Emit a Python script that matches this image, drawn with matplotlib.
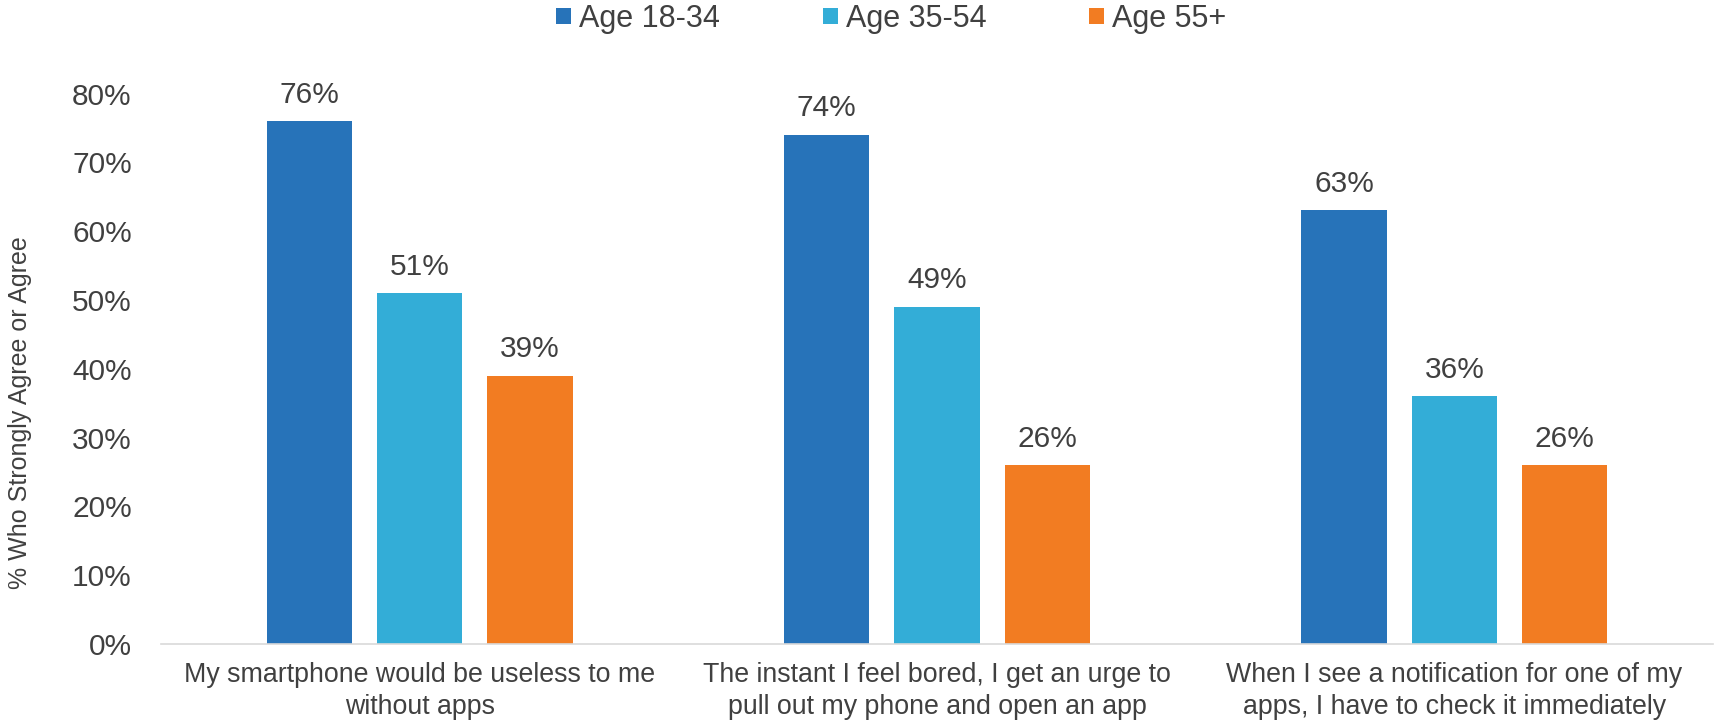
import matplotlib
matplotlib.use("Agg")
import matplotlib.pyplot as plt
from matplotlib.patches import Patch
import numpy as np

plt.rcParams['font.family'] = ['Liberation Sans', 'DejaVu Sans']

categories = [
    "My smartphone would be useless to me\nwithout apps",
    "The instant I feel bored, I get an urge to\npull out my phone and open an app",
    "When I see a notification for one of my\napps, I have to check it immediately",
]
series_names = ["Age 18-34", "Age 35-54", "Age 55+"]
age_18_34 = [76, 74, 63]
age_35_54 = [51, 49, 36]
age_55_plus = [39, 26, 26]
y_ticks = [0, 10, 20, 30, 40, 50, 60, 70, 80]

colors = ["#2773B9", "#33ADD7", "#F27C22"]
text_color = "#404040"

fig = plt.figure(figsize=(17.24, 7.21), dpi=100)
ax = fig.add_axes([0.0934, 0.1068, 0.9002, 0.7635])

x = np.arange(len(categories))
width = 0.165
step = 0.213
for i, (vals, col) in enumerate(zip([age_18_34, age_35_54, age_55_plus], colors)):
    pos = x + (i - 1) * step
    bars = ax.bar(pos, vals, width=width, color=col, zorder=2)
    for b, v in zip(bars, vals):
        ax.annotate(f"{v}%", (b.get_x() + b.get_width() / 2, v),
                    xytext=(0, 9), textcoords="offset points",
                    ha="center", va="bottom", fontsize=21.5, color=text_color)

ax.set_xlim(-0.5, 2.5)
ax.set_ylim(0, 80)
ax.set_yticks(y_ticks)
ax.set_yticklabels([f"{t}%" for t in y_ticks], fontsize=21.5, color=text_color)
ax.set_xticks(x)
ax.set_xticklabels(categories, fontsize=19.3, color=text_color, linespacing=1.3)
ax.tick_params(axis="both", length=0)
ax.tick_params(axis="y", pad=21)
ax.tick_params(axis="x", pad=13)
for s in ["top", "right", "left"]:
    ax.spines[s].set_visible(False)
ax.spines["bottom"].set_color("#D9D9D9")
ax.spines["bottom"].set_linewidth(1.2)

fig.text(0.0116, 0.428, "% Who Strongly Agree or Agree", rotation=90,
         ha="center", va="center", fontsize=18, color=text_color)

handles = [Patch(facecolor=c, edgecolor="none") for c in colors]
fig.legend(handles, series_names, loc="center", bbox_to_anchor=(0.517, 0.974),
           ncol=3, frameon=False, fontsize=22, handlelength=0.49, handleheight=0.46,
           handletextpad=0.26, columnspacing=3.37, labelcolor=text_color,
           borderaxespad=0, borderpad=0)

fig.savefig("out.png", dpi=100)
